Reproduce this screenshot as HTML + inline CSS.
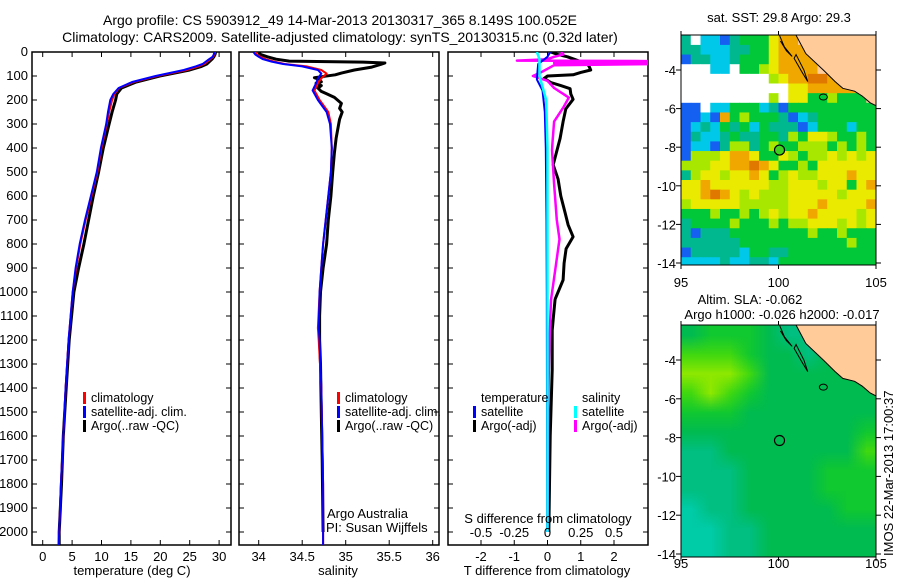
<!DOCTYPE html>
<html><head><meta charset="utf-8">
<style>
body{margin:0;background:#fff;width:900px;height:580px;overflow:hidden;position:relative;font-family:"Liberation Sans",sans-serif}
#sla{position:absolute;left:681px;top:325px;width:195px;height:232px}
#main{position:absolute;left:0;top:0}
text{font-family:"Liberation Sans",sans-serif;font-size:13px;fill:#000}
</style></head>
<body>
<canvas id="sla" width="10" height="12"></canvas>
<svg id="main" width="900" height="580"></svg>
<script>
// ---------- data ----------
const tDepths=[0,10,20,30,50,60,75,100,125,150,175,200,250,300,400,500,600,700,800,900,1000,1200,1400,1600,1800,2000,2054];
const tClim=[29.3,29.2,29,28.5,27.5,26.5,24.5,19.5,15.5,13,12.2,11.8,11.3,10.9,10,9.3,8.3,7.3,6.4,5.7,5.1,4.4,3.9,3.5,3.1,2.8,2.7];
const tSat=[29.2,29.1,28.9,28.3,27.2,26.0,24.0,19.2,15.2,12.9,12.0,11.5,11.1,10.8,9.9,9.2,8.2,7.2,6.3,5.6,5.1,4.4,3.9,3.5,3.1,2.8,2.7];
const tArgo=[29.4,29.3,29.1,28.8,27.9,27.0,25.0,19.9,15.9,13.4,12.6,12.4,11.8,11.3,10.3,9.5,8.6,7.8,7.0,6.1,5.3,4.5,4.0,3.5,3.2,2.8,2.8];
const sDepths=[0,10,20,30,40,50,60,75,90,110,130,160,200,250,300,400,500,600,700,800,900,1000,1150,1200,1400,1600,1800,2000,2054];
const sClim=[33.96,33.98,34.02,34.08,34.18,34.3,34.55,34.72,34.78,34.72,34.68,34.64,34.7,34.8,34.83,34.84,34.83,34.8,34.77,34.74,34.72,34.7,34.68,34.69,34.72,34.73,34.74,34.74,34.74];
const sSat=[33.94,33.96,34.0,34.05,34.15,34.28,34.5,34.68,34.72,34.68,34.66,34.62,34.68,34.78,34.82,34.84,34.83,34.8,34.77,34.74,34.72,34.7,34.69,34.7,34.72,34.73,34.74,34.74,34.74];
const sArgoDepths=[0,10,20,30,38,42,46,52,63,75,88,95,107,115,124,130,140,150,164,174,189,214,235,250,280,300,360,420,500,600,700,800,900,1000,1100,1200,1300,1500,1700,2000];
const sArgo=[34.0,34.02,34.1,34.2,34.35,35.2,35.45,35.4,35.3,35.1,34.95,34.88,34.64,34.7,34.72,34.66,34.72,34.68,34.72,34.78,34.87,34.95,34.93,34.96,34.93,34.92,34.89,34.87,34.85,34.83,34.8,34.78,34.74,34.71,34.7,34.7,34.71,34.72,34.73,34.74];
const dtArgoDepths=[0,10,20,30,40,50,60,75,85,95,100,110,127,140,153,175,197,237,290,360,408,470,530,600,670,720,770,820,880,950,1030,1100,1160,1325,1600,1800,2000];
const dtArgo=[0.1,0.3,0.6,0.8,1.0,1.2,1.25,1.3,1.0,0.77,0.0,-0.1,0.1,0.4,0.68,0.7,0.77,0.55,0.47,0.38,0.29,0.17,0.32,0.4,0.53,0.62,0.77,0.56,0.5,0.47,0.23,0.18,0.14,0.14,0.08,0.06,0.04];
const dtSatDepths=[0,20,50,80,115,160,250,400,700,1000,2000];
const dtSat=[0.08,0.0,-0.28,-0.3,-0.32,-0.15,-0.08,-0.05,-0.03,-0.02,-0.01];
const dsArgoDepths=[0,10,20,30,36,38,42,46,50,55,70,85,100,120,150,190,230,290,360,408,550,700,780,900,1033,1200,1325,1500,2000];
const dsArgo=[0.1,0.12,0.05,0.0,-0.23,0.8,0.8,0.05,0.8,0.05,0.0,-0.05,-0.11,0.0,0.05,0.16,0.12,0.05,0.04,0.034,0.05,0.07,0.09,0.06,0.026,0.015,0.01,0.005,0.0];
const dsSatDepths=[0,30,100,200,400,1000,2000];
const dsSat=[-0.08,-0.06,-0.06,-0.01,0.0,0.0,0.0];
const depthTicks=[0,100,200,300,400,500,600,700,800,900,1000,1100,1200,1300,1400,1500,1600,1700,1800,1900,2000];
const tTicks=[0,5,10,15,20,25,30];
const sTicks=[34,34.5,35,35.5,36];
const dtTicks=[-2,-1,0,1,2];
const dsTicks=[-0.5,-0.25,0,0.25,0.5];
const dsTickLabels=["-0.5","-0.25","0","0.25","0.5"];
// SST map grid (0.5 deg, rows from -2.2 southward, cols from 95E)
const sstRows=[
"tWccbtgggyooLLLLLLLL","ttcccttggyoooLLLLLLL","bttcctgggyooooLLLLLL","WWWccWgglyooooLLLLLL",
"WWWWWWWWWlyoorroLLLL","WWWWWWWWWWWyyoooooLL","WWWWWWWWWlWyygglgggL","bbWccgggctbggggggggg",
"bbcboglgggtbctgggggg","bctcgtgcgtttbcgggcgg","btcctgttggtlgyylgglg","bccbtlltglgglllglglg",
"blllyooyggylgllylyly","lllyyooroygglgyyyyyy","tlyylyyoyglyllyyyoyy","yyoyyyyyyllyyylyygyo",
"yyoroylylllyyyyylyyy","lyyyyylllllyyyoyyyyo","ggglgglglylyyoyyyyly","tgggglggglgllyyylyly",
"tbtttgggggggglgglggg","ttttttggggggggggglgg","btttttcggttggggggggg","cccctccttcgggggggggg"];
// SLA map grid (1 deg)
const slaRows=["2333211222","4443221222","5554222222","4543222222","3332222222","2222222223","1122222224","1112222333","1112222333","0112222233","0011222222","0011222222"];
const coastLon=[100.9,101.4,102.3,102.9,103.3,103.9,104.3,104.7,105.1];
const coastLat=[-2.2,-3.15,-4.0,-4.6,-4.95,-5.1,-5.35,-5.7,-5.9];
const argoLon=100.052, argoLat=-8.149;

// ---------- helpers ----------
const NS="http://www.w3.org/2000/svg";
const svg=document.getElementById('main');
function el(tag,attrs,parent){const e=document.createElementNS(NS,tag);for(const k in attrs)e.setAttribute(k,attrs[k]);(parent||svg).appendChild(e);return e;}
function txt(x,y,s,anchor,extra){const t=el('text',Object.assign({x:x,y:y,'text-anchor':anchor||'start'},extra||{}));t.textContent=s;return t;}
const yD=d=>52+d*0.24;
const PB=545;

function line(xs,ds,fx,color,w,name,clipId){
  const p=xs.map((v,i)=>(i?'L':'M')+fx(v).toFixed(1)+' '+yD(ds[i]).toFixed(1)).join(' ');
  const e=el('path',{d:p,fill:'none',stroke:color,'stroke-width':w,'stroke-linejoin':'round','clip-path':'url(#'+clipId+')'});
  
  
}
function panel(x0,x1,id,name){
  const cp=el('clipPath',{id:id});el('rect',{x:x0,y:52,width:x1-x0,height:PB-52},cp);
  const r=el('rect',{x:x0,y:52,width:x1-x0,height:PB-52,fill:'none',stroke:'#000','stroke-width':1.5});
  
  
  depthTicks.forEach(d=>{el('line',{x1:x0,x2:x0+5,y1:yD(d),y2:yD(d),stroke:'#000'});el('line',{x1:x1-5,x2:x1,y1:yD(d),y2:yD(d),stroke:'#000'});});
}
function xticks(vals,labels,fx,x0,x1){
  vals.forEach((v,i)=>{const x=fx(v);el('line',{x1:x,x2:x,y1:52,y2:57,stroke:'#000'});el('line',{x1:x,x2:x,y1:PB-5,y2:PB,stroke:'#000'});
    const t=txt(x,561,labels[i],'middle');});
}
function legend(x,y,color,label){
  el('rect',{x:x,y:y-10,width:3,height:12,fill:color});
  const t=txt(x+8,y,label,'start',{style:'font-size:12.5px'});
}

// titles
let t1=txt(340,25,'Argo profile: CS 5903912_49 14-Mar-2013 20130317_365 8.149S 100.052E','middle',{style:'font-size:14px'});

let t2=txt(340,42,'Climatology: CARS2009. Satellite-adjusted climatology: synTS_20130315.nc (0.32d later)','middle',{style:'font-size:14px'});


// depth labels
depthTicks.forEach(d=>{const t=txt(28,yD(d)+4,String(d),'end');});

// Panel 1 temperature
const fT=v=>42.7+v*5.88;
panel(32,231,'c1','temperature-panel');
xticks(tTicks,tTicks.map(String),fT,32,231);
line(tArgo,tDepths,fT,'#000',3,'argo-temperature-line','c1');
line(tClim,tDepths,fT,'#f00',2,'climatology-temperature-line','c1');
line(tSat,tDepths,fT,'#00f',2,'satellite-temperature-line','c1');
legend(83,402,'#f00','climatology');legend(83,416,'#00f','satellite-adj. clim.');legend(83,430,'#000','Argo(..raw -QC)');
let a1=txt(132,575,'temperature (deg C)','middle');

// Panel 2 salinity
const fS=v=>258.7+(v-34)*87;
panel(239,439,'c2','salinity-panel');
xticks(sTicks,sTicks.map(String),fS,239,439);
line(sArgo,sArgoDepths,fS,'#000',3,'argo-salinity-line','c2');
line(sClim,sDepths,fS,'#f00',2,'climatology-salinity-line','c2');
line(sSat,sDepths,fS,'#00f',2,'satellite-salinity-line','c2');
legend(337,402,'#f00','climatology');legend(337,416,'#00f','satellite-adj. clim.');legend(337,430,'#000','Argo(..raw -QC)');
txt(327,518,'Argo Australia');txt(326,532,'PI: Susan Wijffels');
let a2=txt(338,575,'salinity','middle');

// Panel 3 differences
const fdT=v=>547.5+v*33.25;
const fdS=v=>547.5+v*133;
panel(448,648,'c3','difference-panel');
xticks(dtTicks,dtTicks.map(String),fdT,448,648);
line(dtArgo,dtArgoDepths,fdT,'#000',3,'argo-t-diff-line','c3');
line(dsArgo,dsArgoDepths,fdS,'#f0f',2.5,'argo-s-diff-line','c3');
line(dtSat,dtSatDepths,fdT,'#00f',2,'satellite-t-diff-line','c3');
line(dsSat,dsSatDepths,fdS,'#0ff',2.5,'satellite-s-diff-line','c3');
txt(481,402,'temperature','start',{style:'font-size:12.5px'});txt(582,402,'salinity','start',{style:'font-size:12.5px'});
legend(473,416,'#00f','satellite');legend(473,430,'#000','Argo(-adj)');
legend(574,416,'#0ff','satellite');legend(574,430,'#f0f','Argo(-adj)');
txt(548,523,'S difference from climatology','middle');
dsTicks.forEach((v,i)=>{const t=txt(fdS(v),537,dsTickLabels[i],'middle');});
let a3=txt(547,575,'T difference from climatology','middle');

// ---------- maps ----------
const mx=lon=>681+(lon-95)*19.5;
const colors={W:'#ffffff',b:'#1560f0',c:'#00c8e8',t:'#00b890',g:'#00c838',l:'#a8e800',y:'#eaea00',o:'#f0a800',r:'#e07800',L:'#ffcc99'};
function mapFrame(y0,y1,fy,id,name){
  const cp=el('clipPath',{id:id});el('rect',{x:681,y:y0,width:195,height:y1-y0},cp);
  return cp;
}
function landAndMarks(fy,clip,fillCircle){
  const g=el('g',{'clip-path':'url(#'+clip+')'});
  let p='M'+coastLon.map((v,i)=>mx(v).toFixed(1)+' '+fy(coastLat[i]).toFixed(1)).join(' L');
  p+=' L'+mx(105.5)+' '+fy(-5.9)+' L'+mx(105.5)+' '+fy(-1.5)+' L'+mx(100.9)+' '+fy(-1.5)+'Z';
  const land=el('path',{d:p,fill:'#ffcc99',stroke:'#000','stroke-width':1},g);
  
  el('path',{d:'M'+mx(100.05)+' '+fy(-2.2)+' L'+mx(100.3)+' '+fy(-2.8)+' L'+mx(100.7)+' '+fy(-3.3)+' L'+mx(100.4)+' '+fy(-3.0)+' L'+mx(100.1)+' '+fy(-2.5),fill:'none',stroke:'#000'},g);
  el('path',{d:'M'+mx(100.9)+' '+fy(-3.2)+' L'+mx(101.3)+' '+fy(-4.0)+' L'+mx(101.5)+' '+fy(-4.6)+' L'+mx(101.2)+' '+fy(-4.1)+' L'+mx(100.8)+' '+fy(-3.4)+'Z',fill:'none',stroke:'#000'},g);
  el('ellipse',{cx:mx(102.3),cy:fy(-5.4),rx:4,ry:3,fill:'none',stroke:'#000'},g);
  const c=el('circle',{cx:mx(argoLon),cy:fy(argoLat),r:5,fill:fillCircle,stroke:'#000','stroke-width':1.2});
  
}
function mapAxes(y0,y1,fy,labY,name){
  const r=el('rect',{x:681,y:y0,width:195,height:y1-y0,fill:'none',stroke:'#000'});
  
  [-4,-6,-8,-10,-12,-14].forEach(l=>{const y=fy(l);el('line',{x1:676,x2:681,y1:y,y2:y,stroke:'#000'});el('line',{x1:876,x2:881,y1:y,y2:y,stroke:'#000'});
    const t=txt(676,y+5,String(l),'end',{style:'font-size:13px'});});
  [95,100,105].forEach(l=>{const x=mx(l);el('line',{x1:x,x2:x,y1:y0-4,y2:y0,stroke:'#000'});el('line',{x1:x,x2:x,y1:y1,y2:y1+4,stroke:'#000'});
    const t=txt(x,labY,String(l),'middle',{style:'font-size:13px'});});
}
// top SST map
const fy1=lat=>70+(-4-lat)*19.3;
mapFrame(35,265,fy1,'m1');
const gm=el('g',{'clip-path':'url(#m1)'});
sstRows.forEach((row,i)=>{for(let j=0;j<row.length;j++){
  const lat=-2.2-0.5*i, lon=95+0.5*j;
  const r=el('rect',{x:mx(lon),y:fy1(lat),width:10.3,height:10.2,fill:colors[row[j]]},gm);
  
  
}});
landAndMarks(fy1,'m1','#40d020');
mapAxes(35,265,fy1,287,'sst-map');
txt(779,22,'sat. SST: 29.8 Argo: 29.3','middle');

// bottom SLA map
const fy2=lat=>360+(-4-lat)*19.4;
mapFrame(325,557,fy2,'m2');
const slaCols=['#00cca8','#00bf80','#00bb50','#10c830','#40d810','#8ee800'];
const cv=document.getElementById('sla').getContext('2d');
slaRows.forEach((row,i)=>{for(let j=0;j<row.length;j++){cv.fillStyle=slaCols[+row[j]];cv.fillRect(j,i,1,1);}});
landAndMarks(fy2,'m2','none');
mapAxes(325,557,fy2,568,'sla-map');
txt(750,304,'Altim. SLA: -0.062','middle');
txt(782,319,'Argo h1000: -0.026 h2000: -0.017','middle');
const im=txt(0,0,'IMOS 22-Mar-2013 17:00:37','start',{transform:'translate(893,556) rotate(-90)'});

</script>
</body></html>
